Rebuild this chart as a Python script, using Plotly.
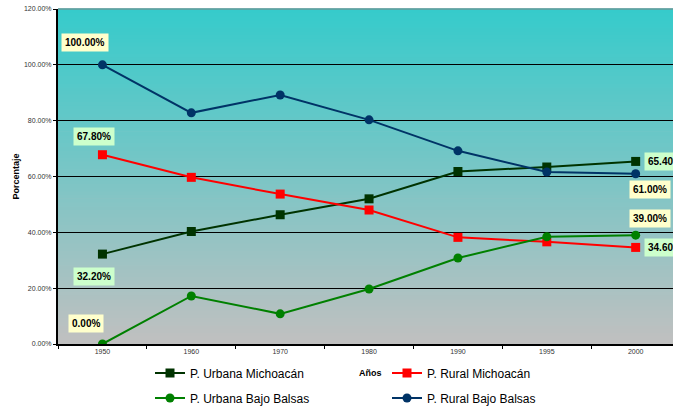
import plotly.graph_objects as go

# Population share by year (percent)
years = ["1950", "1960", "1970", "1980", "1990", "1995", "2000"]
urbana_michoacan = [32.2, 40.3, 46.3, 52.0, 61.8, 63.4, 65.4]
rural_michoacan = [67.8, 59.7, 53.7, 48.0, 38.2, 36.6, 34.6]
urbana_bajo_balsas = [0.0, 17.2, 10.8, 19.7, 30.8, 38.4, 39.0]
rural_bajo_balsas = [100.0, 82.8, 89.2, 80.3, 69.2, 61.6, 61.0]
y_ticks = [0, 20, 40, 60, 80, 100, 120]

FONT = "Liberation Sans, Arial, sans-serif"

series = [
    ("P. Urbana Michoacán", urbana_michoacan, "#003300", "square", "legend"),
    ("P. Rural Michoacán", rural_michoacan, "#FF0000", "square", "legend"),
    ("P. Urbana Bajo Balsas", urbana_bajo_balsas, "#008000", "circle", "legend2"),
    ("P. Rural Bajo Balsas", rural_bajo_balsas, "#003366", "circle", "legend2"),
]

fig = go.Figure()
for name, vals, color, symbol, leg in series:
    fig.add_trace(go.Scatter(
        x=years, y=vals, name=name, mode="lines+markers",
        line=dict(color=color, width=2),
        marker=dict(symbol=symbol, size=9, color=color),
        legend=leg,
    ))

# Vertical gradient background: teal at the top fading to grey at the bottom
top = (0x36, 0xCB, 0xCB)
bottom = (0xC0, 0xC0, 0xC0)
bands = 90
shapes = []
for i in range(bands):
    t = i / (bands - 1)
    c = tuple(round(bottom[k] + (top[k] - bottom[k]) * t) for k in range(3))
    shapes.append(dict(
        type="rect", xref="x domain", yref="y domain",
        x0=0, x1=1, y0=i / bands, y1=(i + 1) / bands + 0.002,
        fillcolor="rgb(%d,%d,%d)" % c, line=dict(width=0), layer="below",
    ))

# Value labels at the first and last year of each series
GREEN_BG = "#CCFFCC"
YELLOW_BG = "#FFFFCC"
label_specs = [
    (0, rural_bajo_balsas, YELLOW_BG, -17, 22, "center"),
    (0, rural_michoacan, GREEN_BG, -8, 18, "center"),
    (0, urbana_michoacan, GREEN_BG, -8, -22, "center"),
    (0, urbana_bajo_balsas, YELLOW_BG, -16, 21, "center"),
    (6, urbana_michoacan, GREEN_BG, 8, 0, "left"),
    (6, rural_bajo_balsas, YELLOW_BG, 14, -16, "center"),
    (6, urbana_bajo_balsas, YELLOW_BG, 14, 17, "center"),
    (6, rural_michoacan, GREEN_BG, 8, 0, "left"),
]
for idx, vals, bg, dx, dy, xa in label_specs:
    fig.add_annotation(
        x=idx, y=vals[idx], xref="x", yref="y",
        text="<b>%.2f%%</b>" % vals[idx], showarrow=False,
        xshift=dx, yshift=dy, xanchor=xa, yanchor="middle",
        bgcolor=bg, borderpad=3,
        font=dict(family=FONT, size=10, color="#000000"),
    )

fig.add_annotation(
    text="<b>Años</b>", xref="paper", yref="paper", x=(370 - 58) / 615, y=-0.087,
    yanchor="middle", showarrow=False,
    font=dict(family=FONT, size=9, color="#000000"),
)

fig.update_layout(
    width=673, height=409,
    margin=dict(l=58, r=0, t=9, b=65),
    paper_bgcolor="white",
    plot_bgcolor="#C0C0C0",
    font=dict(family=FONT, color="#000000"),
    shapes=shapes,
    legend=dict(
        orientation="h", xref="container", yref="container",
        x=150 / 673, y=(409 - 373) / 409, yanchor="middle", xanchor="left",
        entrywidth=192, font=dict(family=FONT, size=12),
        bgcolor="rgba(0,0,0,0)",
    ),
    legend2=dict(
        orientation="h", xref="container", yref="container",
        x=150 / 673, y=(409 - 398) / 409, yanchor="middle", xanchor="left",
        entrywidth=192, font=dict(family=FONT, size=12),
        bgcolor="rgba(0,0,0,0)",
    ),
    xaxis=dict(
        type="category", range=[-0.5, 6.42],
        showgrid=False, zeroline=False,
        showline=True, linecolor="#000000", linewidth=2,
        ticks="outside", tickson="boundaries", ticklen=3, tickcolor="#000000",
        tickfont=dict(family=FONT, size=7, color="#333333"),
    ),
    yaxis=dict(
        range=[0, 120], tickvals=y_ticks,
        ticktext=["%.2f%%" % v for v in y_ticks],
        showgrid=True, gridcolor="#000000", gridwidth=1,
        zeroline=False, showline=True, linecolor="#000000", linewidth=2,
        ticks="outside", ticklen=3, tickcolor="#000000",
        tickfont=dict(family=FONT, size=7, color="#333333"),
        title=dict(text="<b>Porcentaje</b>", font=dict(family=FONT, size=9), standoff=3),
    ),
)

# Thin grey frame along the top of the plotting area
fig.add_shape(type="line", xref="x domain", yref="y domain", x0=0, x1=1, y0=1, y1=1,
              line=dict(color="#808080", width=1))

fig.write_html("out.html")
